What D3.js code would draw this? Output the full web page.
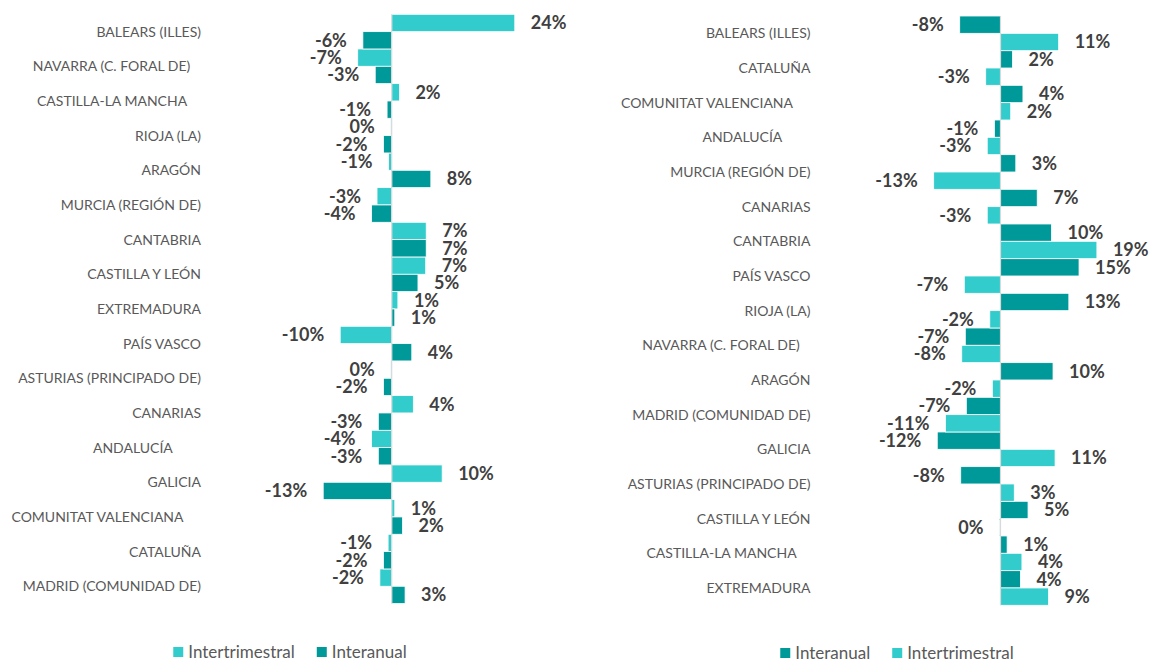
<!DOCTYPE html>
<html>
<head>
<meta charset="utf-8">
<script src="https://cdn.jsdelivr.net/npm/d3@7"></script>
<style>
  body { margin: 0; background: #ffffff; }
  svg { display: block; }
  text { font-family: Lato, "Open Sans", "Noto Sans", sans-serif; }
</style>
</head>
<body>
<svg id="chart" width="1156" height="661"></svg>
<script>
// Left panel: regions ordered by quarterly change
const categoriesLeft = [
  "BALEARS (ILLES)", "NAVARRA (C. FORAL DE)   ", "CASTILLA-LA MANCHA    ", "RIOJA (LA)",
  "ARAGÓN", "MURCIA (REGIÓN DE)", "CANTABRIA", "CASTILLA Y LEÓN", "EXTREMADURA",
  "PAÍS VASCO", "ASTURIAS (PRINCIPADO DE)", "CANARIAS", "ANDALUCÍA        ",
  "GALICIA", "COMUNITAT VALENCIANA     ", "CATALUÑA", "MADRID (COMUNIDAD DE)"
];
const intertrimestralLeft = [23.9, -6.6, 1.5, -0.2, -0.6, -2.85, 6.7, 6.6, 1.2, -10.0, -0.2, 4.2, -3.9, 9.8, 0.6, -0.7, -2.3];
const interanualLeft      = [-5.6, -3.2, -0.9, -1.6, 7.6, -3.9, 6.7, 5.1, 0.6, 3.9, -1.6, -2.6, -2.6, -13.3, 2.1, -1.6, 2.6];

// Right panel: regions ordered by annual change
const categoriesRight = [
  "BALEARS (ILLES)", "CATALUÑA", "COMUNITAT VALENCIANA     ", "ANDALUCÍA        ",
  "MURCIA (REGIÓN DE)", "CANARIAS", "CANTABRIA", "PAÍS VASCO", "RIOJA (LA)",
  "NAVARRA (C. FORAL DE)   ", "ARAGÓN", "MADRID (COMUNIDAD DE)", "GALICIA",
  "ASTURIAS (PRINCIPADO DE)", "CASTILLA Y LEÓN", "CASTILLA-LA MANCHA    ", "EXTREMADURA"
];
const interanualRight      = [-8.0, 2.35, 4.4, -1.2, 3.0, 7.2, 10.0, 15.4, 13.4, -6.9, 10.3, -6.7, -12.4, -7.8, 5.4, 1.3, 3.9];
const intertrimestralRight = [11.4, -2.9, 2.0, -2.6, -13.1, -2.6, 18.9, -7.1, -2.1, -7.6, -1.6, -10.8, 10.7, 2.7, -0.2, 4.2, 9.4];

const seriesNames = ["Intertrimestral", "Interanual"];
const colorLight = "#33CCCC";
const colorDark = "#009999";

const svg = d3.select("#chart");

function drawPanel(opts) {
  const g = svg.append("g");
  const y = d3.scaleBand().domain(opts.categories).range(opts.yRange).padding(0);
  const ySub = d3.scaleBand().domain(opts.series.map(s => s.name)).range([0, y.bandwidth()]).padding(0);
  const x = d3.scaleLinear().domain(opts.xDomain).range(opts.xRange);

  // category labels
  g.append("g").selectAll("text")
    .data(opts.categories)
    .join("text")
    .attr("xml:space", "preserve")
    .style("white-space", "pre")
    .attr("x", opts.labelX)
    .attr("y", d => y(d) + y.bandwidth() / 2)
    .attr("dy", "0.36em")
    .attr("text-anchor", "end")
    .attr("font-size", 14)
    .attr("fill", "#595959")
    .text(d => d);

  const rows = [];
  opts.series.forEach(s => {
    s.values.forEach((v, i) => rows.push({ cat: opts.categories[i], series: s.name, color: s.color, v }));
  });

  // bars
  g.append("g").selectAll("rect")
    .data(rows)
    .join("rect")
    .attr("x", d => Math.min(x(0), x(d.v)))
    .attr("y", d => y(d.cat) + ySub(d.series))
    .attr("width", d => Math.abs(x(d.v) - x(0)))
    .attr("height", ySub.bandwidth())
    .attr("fill", d => d.color)
    .attr("stroke", "#ffffff")
    .attr("stroke-width", 0.8);

  // zero axis
  g.append("line")
    .attr("x1", x(0)).attr("x2", x(0))
    .attr("y1", opts.yRange[0]).attr("y2", opts.yRange[1])
    .attr("stroke", "#D9D9D9")
    .attr("stroke-width", 1.2);

  // value labels
  g.append("g").selectAll("text")
    .data(rows)
    .join("text")
    .attr("x", d => d.v > 0 ? x(d.v) + 16 : x(d.v) - 16)
    .attr("y", d => y(d.cat) + ySub(d.series) + ySub.bandwidth() / 2)
    .attr("dy", "0.36em")
    .attr("text-anchor", d => d.v > 0 ? "start" : "end")
    .attr("font-size", 18)
    .attr("font-weight", 700)
    .attr("fill", "#404040")
    .text(d => `${Math.round(d.v)}%`);

  // legend
  const lg = g.append("g");
  let cx = 0;
  opts.legend.forEach(s => {
    const item = lg.append("g").attr("transform", `translate(${cx},0)`);
    item.append("rect").attr("x", 0).attr("y", -5).attr("width", 10).attr("height", 10).attr("fill", s.color);
    const t = item.append("text")
      .attr("x", 15).attr("y", 0).attr("dy", "0.36em")
      .attr("font-size", 17).attr("fill", "#595959")
      .text(s.name);
    cx += 15 + t.node().getComputedTextLength() + 22;
  });
  const total = cx - 22;
  lg.attr("transform", `translate(${opts.legendCenter - total / 2},${opts.legendY})`);
}

drawPanel({
  categories: categoriesLeft,
  series: [
    { name: seriesNames[0], values: intertrimestralLeft, color: colorLight },
    { name: seriesNames[1], values: interanualLeft, color: colorDark }
  ],
  legend: [
    { name: seriesNames[0], color: colorLight },
    { name: seriesNames[1], color: colorDark }
  ],
  xDomain: [-15, 25],
  xRange: [391.7 - 15 * 5.15, 391.7 + 25 * 5.15],
  yRange: [14.3, 603.6],
  labelX: 201,
  legendCenter: 290,
  legendY: 652
});

drawPanel({
  categories: categoriesRight,
  series: [
    { name: seriesNames[1], values: interanualRight, color: colorDark },
    { name: seriesNames[0], values: intertrimestralRight, color: colorLight }
  ],
  legend: [
    { name: seriesNames[1], color: colorDark },
    { name: seriesNames[0], color: colorLight }
  ],
  xDomain: [-15, 20],
  xRange: [1000.5 - 15 * 5.1, 1000.5 + 20 * 5.1],
  yRange: [16, 605.3],
  labelX: 810.5,
  legendCenter: 897,
  legendY: 653
});
</script>
</body>
</html>
